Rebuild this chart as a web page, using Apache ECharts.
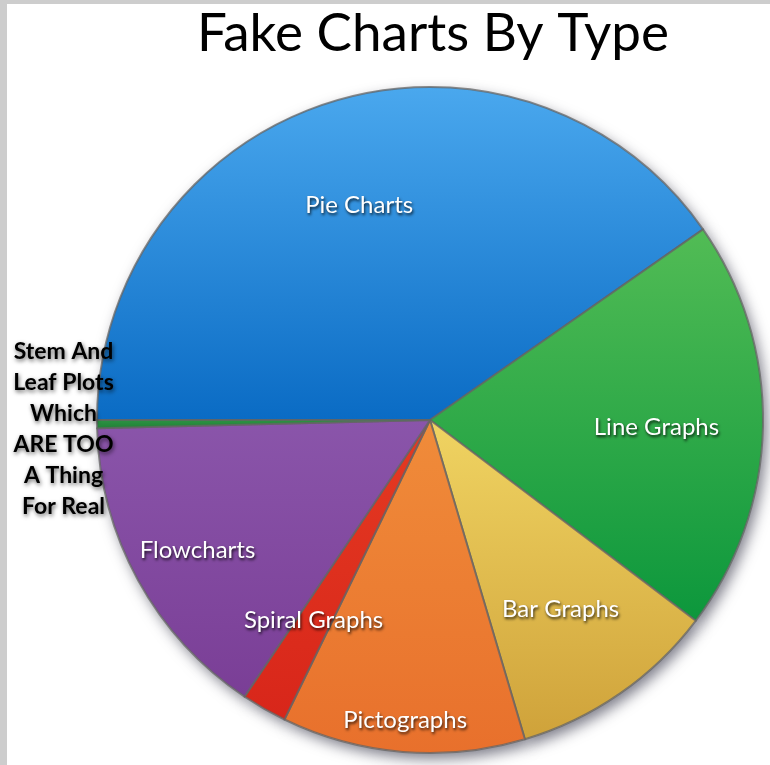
<!DOCTYPE html>
<html>
<head>
<meta charset="utf-8">
<script src="https://cdn.jsdelivr.net/npm/echarts@6/dist/echarts.min.js"></script>
<style>
    html, body { margin: 0; padding: 0; background: #fff; }
    #chart { width: 770px; height: 765px; }
</style>
</head>
<body>
<div id="chart"></div>
<script>
// 数据
var categories = ['Pie Charts', 'Line Graphs', 'Bar Graphs', 'Pictographs', 'Spiral Graphs', 'Flowcharts',
    'Stem And\nLeaf Plots\nWhich\nARE TOO\nA Thing\nFor Real'];
var shares = [40.3, 20.0, 10.1, 11.8, 2.2, 15.2, 0.4];

// 每块的颜色 (上, 下)
var sliceColors = [
    ['#4aa8ee', '#0a6bc4'],
    ['#52bc55', '#0c973c'],
    ['#f0d462', '#cfa23a'],
    ['#f08c3a', '#e8702c'],
    ['#e43a22', '#d8261a'],
    ['#8a55aa', '#7a3e96'],
    ['#2e9444', '#1f8036']
];
// label 偏移
var labelShift = [[-20, -53], [57, 4], [34, 50], [-11, 131], [-32, 53], [-84, 49], [-197, 7]];

var dom = document.getElementById('chart');
var chart = echarts.init(dom);

var data = [];
var shadowData = [];
for (var i = 0; i < categories.length; i++) {
    data.push({
        name: categories[i],
        value: shares[i],
        itemStyle: {
            color: new echarts.graphic.LinearGradient(0, 0, 0, 1, [
                { offset: 0, color: sliceColors[i][0] },
                { offset: 1, color: sliceColors[i][1] }
            ])
        }
    });
    shadowData.push({ name: categories[i], value: shares[i] });
}
// stem label 在外面, 黑色
data[6].label = {
    color: '#000',
    fontWeight: 'bold',
    fontSize: 23,
    lineHeight: 31,
    align: 'center',
    textShadowColor: 'rgba(0,0,0,0.6)',
    textShadowBlur: 4,
    textShadowOffsetX: 1,
    textShadowOffsetY: 2
};

var option = {
    backgroundColor: '#ffffff',
    animation: false,
    title: {
        text: 'Fake Charts By Type',
        left: 428,
        top: 2,
        textAlign: 'center',
        textStyle: {
            fontFamily: 'Lato',
            fontWeight: 'normal',
            fontSize: 53,
            color: '#000',
            textShadowColor: '#000',
            textShadowBlur: 0,
            textShadowOffsetX: 0.6
        }
    },
    graphic: [
        { type: 'rect', left: 0, top: 0, shape: { width: 7, height: 765 }, style: { fill: '#cdcdcd' } },
        { type: 'rect', left: 0, top: 0, shape: { width: 770, height: 4 }, style: { fill: '#cdcdcd' } }
    ],
    series: [{
        // 阴影层
        type: 'pie',
        silent: true,
        z: 1,
        center: [430, 420],
        radius: 333,
        startAngle: 180,
        label: { show: false },
        labelLine: { show: false },
        itemStyle: {
            color: '#ffffff',
            shadowColor: 'rgba(40,40,60,0.6)',
            shadowBlur: 14,
            shadowOffsetX: 4,
            shadowOffsetY: 6
        },
        data: shadowData
    }, {
        type: 'pie',
        z: 2,
        center: [430, 420],
        radius: 333,
        startAngle: 180,
        clockwise: true,
        avoidLabelOverlap: false,
        itemStyle: {
            borderColor: 'rgba(100,100,100,0.75)',
            borderWidth: 2
        },
        label: {
            show: true,
            position: 'inside',
            formatter: '{b}',
            color: '#fff',
            fontFamily: 'Lato',
            fontSize: 24,
            textShadowColor: 'rgba(0,0,0,0.8)',
            textShadowBlur: 3,
            textShadowOffsetX: 1,
            textShadowOffsetY: 2
        },
        labelLine: { show: false },
        labelLayout: function (params) {
            var s = labelShift[params.dataIndex];
            return { dx: s[0], dy: s[1] };
        },
        emphasis: { disabled: true },
        data: data
    }]
};
chart.setOption(option);
</script>
</body>
</html>
